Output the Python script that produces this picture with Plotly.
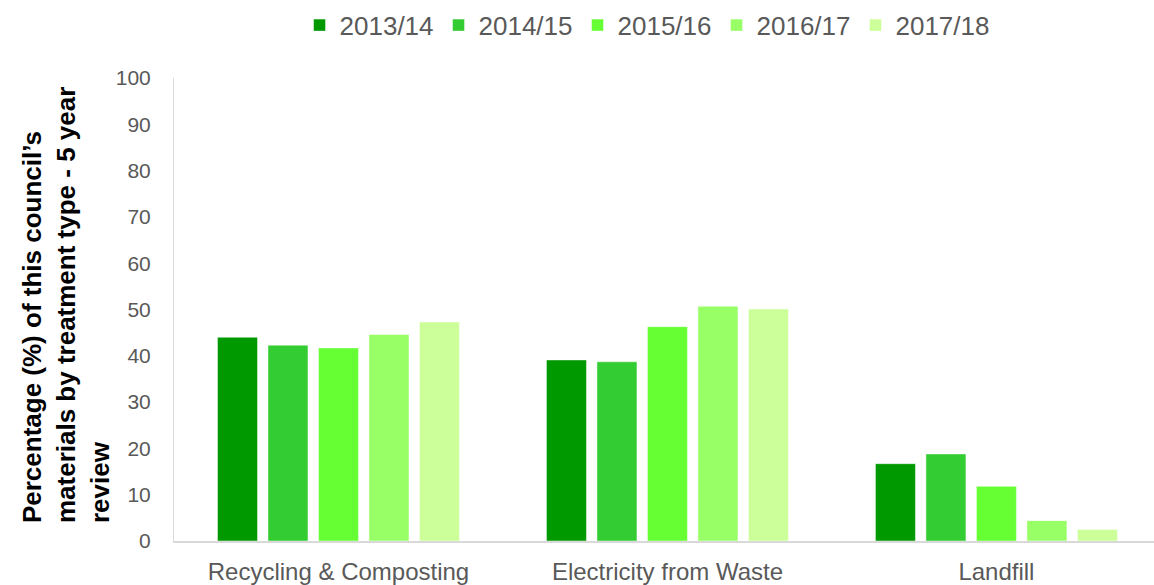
import plotly.graph_objects as go

# Treatment routes and the share of material handled by each, per year
categories = ["Recycling &amp; Composting", "Electricity from Waste", "Landfill"]
years = ["2013/14", "2014/15", "2015/16", "2016/17", "2017/18"]
values_2013_14 = [44.0, 39.1, 16.7]
values_2014_15 = [42.3, 38.7, 18.8]
values_2015_16 = [41.7, 46.3, 11.8]
values_2016_17 = [44.6, 50.7, 4.4]
values_2017_18 = [47.3, 50.1, 2.5]
series = [values_2013_14, values_2014_15, values_2015_16, values_2016_17, values_2017_18]
colors = ["#009900", "#33CC33", "#66FF33", "#99FF66", "#CCFF99"]

y_ticks = [0, 10, 20, 30, 40, 50, 60, 70, 80, 90, 100]

FONT = "Liberation Sans, Arial, sans-serif"
GREY = "#595959"

fig = go.Figure()
for name, vals, col in zip(years, series, colors):
    fig.add_trace(go.Bar(
        x=categories,
        y=vals,
        name=name,
        marker=dict(color=col, line=dict(color="rgba(255,255,255,0.45)", width=1)),
    ))

fig.update_layout(
    width=1154,
    height=585,
    margin=dict(l=174, r=0, t=78, b=41),
    paper_bgcolor="white",
    plot_bgcolor="white",
    barmode="group",
    bargap=0.2325,
    bargroupgap=0.208,
    font=dict(family=FONT, color=GREY),
    legend=dict(
        orientation="h",
        x=0.4827,
        xanchor="center",
        y=1.114,
        yanchor="middle",
        font=dict(size=26, color=GREY, family=FONT),
        itemwidth=30,
    ),
    showlegend=True,
)

fig.update_xaxes(
    range=[-0.5, 2.479],
    showline=True,
    linecolor="#d9d9d9",
    linewidth=1.5,
    showgrid=False,
    ticks="",
    tickfont=dict(size=24, color=GREY, family=FONT),
    ticklabelstandoff=8,
)

fig.update_yaxes(
    range=[0, 100],
    tickvals=y_ticks,
    showline=True,
    linecolor="#d9d9d9",
    linewidth=1,
    showgrid=False,
    zeroline=False,
    ticks="",
    tickfont=dict(size=21, color=GREY, family=FONT),
    ticklabelstandoff=18,
)

fig.add_annotation(
    text="Percentage (%) of this council’s<br>materials by treatment type - 5 year<br>review",
    xref="paper",
    yref="paper",
    x=-0.110,
    y=0.51,
    xanchor="center",
    yanchor="middle",
    textangle=-90,
    showarrow=False,
    align="left",
    font=dict(size=26, color="black", family=FONT, weight="bold"),
)

fig.write_html("out.html")
